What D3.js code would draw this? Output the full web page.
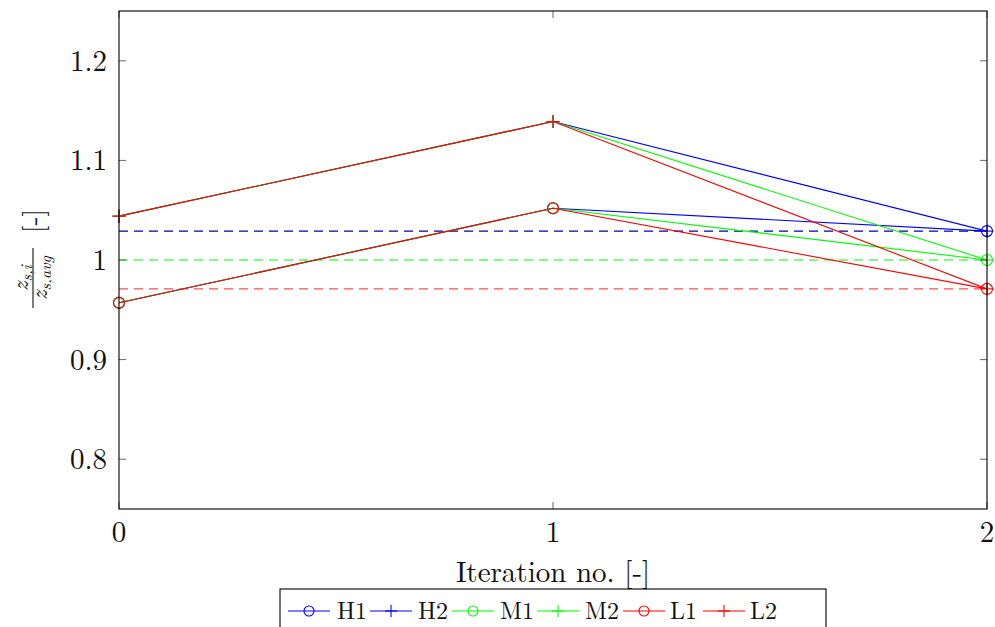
<!DOCTYPE html>
<html>
<head>
<meta charset="utf-8">
<script src="https://cdn.jsdelivr.net/npm/d3@7"></script>
<style>
  body { margin: 0; background: #fff; }
  svg { display: block; }
  text { font-family: "Latin Modern Roman", "DejaVu Serif", "Liberation Serif", serif; fill: #111; }
</style>
</head>
<body>
<svg id="chart" width="995" height="627"></svg>
<script>
// Iterations on the x axis
const iterations = [0, 1, 2];
const xTicks = [0, 1, 2];
const yTicks = [0.8, 0.9, 1.0, 1.1, 1.2];
const yTickLabels = ["0.8", "0.9", "1", "1.1", "1.2"];

// Normalised settlement per pile group, per iteration
const H1 = [0.957, 1.052, 1.029];
const H2 = [1.044, 1.139, 1.029];
const M1 = [0.957, 1.052, 1.000];
const M2 = [1.044, 1.139, 1.000];
const L1 = [0.957, 1.052, 0.971];
const L2 = [1.044, 1.139, 0.971];

// Group averages (dashed reference lines)
const avgNames = ["H", "M", "L"];
const avgValues = [1.029, 1.000, 0.971];

const seriesNames = ["H1", "H2", "M1", "M2", "L1", "L2"];
const seriesValues = [H1, H2, M1, M2, L1, L2];
const seriesMarks = ["circle", "plus", "circle", "plus", "circle", "plus"];

const colors = { H: "#0000ff", M: "#00ff00", L: "#ff0000" };
const avgColors = { H: "#0000b4", M: "#00ff00", L: "#ff5050" };

const svg = d3.select("#chart");
const m = { left: 119, right: 987, top: 11, bottom: 509 };

const x = d3.scaleLinear().domain([0, 2]).range([m.left, m.right]);
const y = d3.scaleLinear().domain([0.75, 1.25]).range([m.bottom, m.top]);

svg.append("defs").append("clipPath").attr("id", "plotclip")
  .append("rect").attr("x", m.left).attr("y", m.top)
  .attr("width", m.right - m.left).attr("height", m.bottom - m.top);

// Dashed average lines
const plot = svg.append("g").attr("clip-path", "url(#plotclip)");
avgNames.forEach((n, i) => {
  plot.append("line")
    .attr("x1", x(0)).attr("x2", x(2))
    .attr("y1", y(avgValues[i])).attr("y2", y(avgValues[i]))
    .attr("stroke", avgColors[n]).attr("stroke-width", 1.1)
    .attr("stroke-dasharray", "9,6");
});

// Series lines
const line = d3.line().x((d, i) => x(iterations[i])).y(d => y(d));
seriesNames.forEach((n, k) => {
  plot.append("path").datum(seriesValues[k])
    .attr("d", line).attr("fill", "none")
    .attr("stroke", colors[n[0]]).attr("stroke-width", 1.1);
});

// Markers
function drawMark(g, kind, cx, cy, color, r) {
  if (kind === "circle") {
    g.append("circle").attr("cx", cx).attr("cy", cy).attr("r", r)
      .attr("fill", "none").attr("stroke", color).attr("stroke-width", 1.1);
  } else {
    g.append("line").attr("x1", cx - r - 1).attr("x2", cx + r + 1).attr("y1", cy).attr("y2", cy)
      .attr("stroke", color).attr("stroke-width", 1.1);
    g.append("line").attr("x1", cx).attr("x2", cx).attr("y1", cy - r - 1).attr("y2", cy + r + 1)
      .attr("stroke", color).attr("stroke-width", 1.1);
  }
}
const marks = svg.append("g");
seriesNames.forEach((n, k) => {
  seriesValues[k].forEach((v, i) => {
    drawMark(marks, seriesMarks[k], x(iterations[i]), y(v), colors[n[0]], 5.5);
  });
});

// Axes: inward ticks on all four sides
const tickLen = 7;
const axisG = svg.append("g");
yTicks.forEach((t, i) => {
  axisG.append("line").attr("x1", m.left).attr("x2", m.left + tickLen)
    .attr("y1", y(t)).attr("y2", y(t)).attr("stroke", "#555").attr("stroke-width", 0.9);
  axisG.append("line").attr("x1", m.right).attr("x2", m.right - tickLen)
    .attr("y1", y(t)).attr("y2", y(t)).attr("stroke", "#555").attr("stroke-width", 0.9);
  axisG.append("text").attr("x", m.left - 12).attr("y", y(t) + 10)
    .attr("text-anchor", "end")
    .attr("font-size", 29).text(yTickLabels[i]);
});
xTicks.forEach(t => {
  axisG.append("line").attr("x1", x(t)).attr("x2", x(t))
    .attr("y1", m.bottom).attr("y2", m.bottom - tickLen).attr("stroke", "#555").attr("stroke-width", 0.9);
  axisG.append("line").attr("x1", x(t)).attr("x2", x(t))
    .attr("y1", m.top).attr("y2", m.top + tickLen).attr("stroke", "#555").attr("stroke-width", 0.9);
  axisG.append("text").attr("x", x(t)).attr("y", m.bottom + 33)
    .attr("text-anchor", "middle").attr("font-size", 29).text(t);
});
axisG.append("rect").attr("x", m.left).attr("y", m.top)
  .attr("width", m.right - m.left).attr("height", m.bottom - m.top)
  .attr("fill", "none").attr("stroke", "#000").attr("stroke-width", 1.1);

// Axis titles
svg.append("text").attr("x", (m.left + m.right) / 2).attr("y", 582)
  .attr("text-anchor", "middle").attr("font-size", 29).text("Iteration no. [-]");

const yl = svg.append("g").attr("transform", "translate(33,278) rotate(-90)");
const num = yl.append("text").attr("x", 0).attr("y", -5).attr("text-anchor", "middle").attr("font-size", 23);
num.append("tspan").attr("font-style", "italic").text("z");
num.append("tspan").attr("font-style", "italic").attr("font-size", 16).attr("dy", 4).text("s,i");
yl.append("line").attr("x1", -30).attr("x2", 30).attr("y1", 0).attr("y2", 0)
  .attr("stroke", "#111").attr("stroke-width", 1.1);
const den = yl.append("text").attr("x", 0).attr("y", 14).attr("text-anchor", "middle").attr("font-size", 23);
den.append("tspan").attr("font-style", "italic").text("z");
den.append("tspan").attr("font-style", "italic").attr("font-size", 16).attr("dy", 4).text("s,avg");
yl.append("text").attr("x", 45).attr("y", -2).attr("dominant-baseline", "central")
  .attr("font-size", 27).text("[-]");

// Legend
const lg = svg.append("g");
lg.append("rect").attr("x", 280).attr("y", 589).attr("width", 546).attr("height", 50)
  .attr("fill", "#fff").attr("stroke", "#000").attr("stroke-width", 1.1);
const entryX = [288, 370, 452, 537, 623, 703];
const labelX = [337, 418, 500, 585, 670, 750];
seriesNames.forEach((n, k) => {
  const cy = 611;
  const c = colors[n[0]];
  lg.append("line").attr("x1", entryX[k]).attr("x2", entryX[k] + 42)
    .attr("y1", cy).attr("y2", cy).attr("stroke", c).attr("stroke-width", 1.1);
  drawMark(lg, seriesMarks[k], entryX[k] + 21, cy, c, 5);
  lg.append("text").attr("x", labelX[k]).attr("y", cy + 8)
    .attr("font-size", 24).text(n);
});
</script>
</body>
</html>
